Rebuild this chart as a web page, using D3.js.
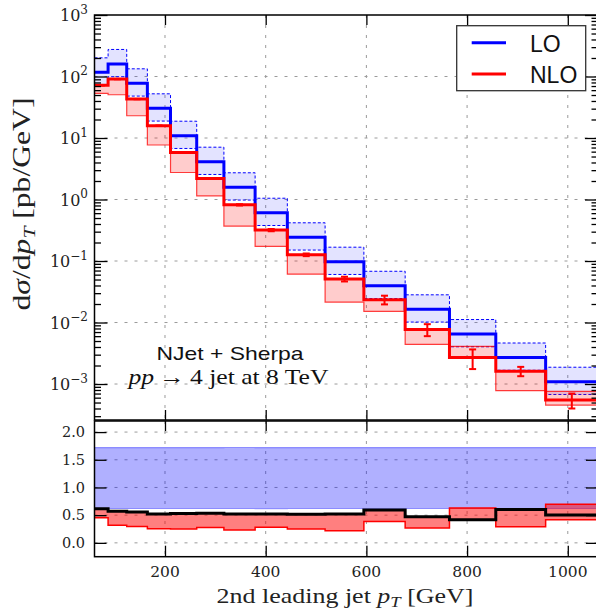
<!DOCTYPE html>
<html><head><meta charset="utf-8">
<script src="https://cdn.jsdelivr.net/npm/d3@7"></script>
<style>
body{margin:0;background:#fff}
svg{display:block}
</style>
</head><body>
<svg id="chart" width="596" height="614"></svg>
<script>
// Bin edges of the 2nd leading jet pT distribution [GeV]
const binEdges = [60, 87, 124, 165, 211, 263, 317, 379, 443, 518, 595, 677, 765, 857, 956, 1060];
// LO prediction [pb/GeV] with its scale-variation envelope
const loCentral = [117, 160, 77.5, 30.4, 10.9, 4.12, 1.58, 0.61, 0.243, 0.0975, 0.0396, 0.0164, 0.0065, 0.0027, 0.00109];
const loUpper   = [201.2, 275.2, 133.3, 52.3, 18.75, 7.09, 2.72, 1.049, 0.418, 0.1677, 0.0681, 0.0282, 0.01118, 0.004644, 0.001875];
const loLower   = [72.5, 99.2, 48.05, 18.85, 6.76, 2.554, 0.98, 0.378, 0.1507, 0.06045, 0.02455, 0.01017, 0.00403, 0.001674, 0.000676];
// NLO prediction [pb/GeV] with its scale-variation envelope and MC errors
const nloCentral = [72, 91, 43, 15.8, 5.8, 2.2, 0.82, 0.318, 0.126, 0.051, 0.0235, 0.0077, 0.0027, 0.00162, 0.00055];
const nloUpper   = [72, 91, 43, 15.8, 5.8, 2.2, 0.82, 0.318, 0.126, 0.051, 0.0235, 0.0077, 0.0041, 0.00162, 0.00076];
const nloLower   = [53, 50.5, 23, 7.7, 2.75, 1.15, 0.37, 0.173, 0.061, 0.0215, 0.0152, 0.0044, 0.0027, 0.00078, 0.000455];
const nloStatErr = [0.5, 0.5, 0.25, 0.1, 0.04, 0.03, 0.02, 0.012, 0.006, 0.0045, 0.0038, 0.0017, 0.00095, 0.00028, 0.00015];
// Tick values
const xTicks = [200, 400, 600, 800, 1000];
const yTopExponents = [-3, -2, -1, 0, 1, 2, 3];
const yRatioTicks = [0.0, 0.5, 1.0, 1.5, 2.0];
const seriesNames = ["LO", "NLO"];

const svg = d3.select("#chart");
const X0 = 94.5, X1 = 598;
const T0 = 15, T1 = 420;      // main panel
const R0 = 421, R1 = 556.7;   // ratio panel

const x = d3.scaleLinear().domain([60, 1060]).range([X0, X1]);
const yTop = d3.scaleLog().domain([2.6e-4, 1e3]).range([T1, T0]);
const yRat = d3.scaleLinear().domain([-0.25, 2.2]).range([R1, R0]);

const serif = "DejaVu Serif";
const lightSerif = "Liberation Serif";
const sans = "Liberation Sans";

const defs = svg.append("defs");
defs.append("clipPath").attr("id", "clipTop").append("rect")
  .attr("x", X0).attr("y", T0).attr("width", X1 - X0).attr("height", T1 - T0);
defs.append("clipPath").attr("id", "clipRat").append("rect")
  .attr("x", X0).attr("y", R0).attr("width", X1 - X0).attr("height", R1 - R0);

// helpers for histogram steps
function stepPts(vals) {
  const p = [];
  vals.forEach((v, i) => { p.push([binEdges[i], v]); p.push([binEdges[i + 1], v]); });
  return p;
}
function bandPts(lo, hi) {
  const p = [];
  lo.forEach((v, i) => { p.push([binEdges[i], v, hi[i]]); p.push([binEdges[i + 1], v, hi[i]]); });
  return p;
}
const ratio = (a) => a.map((v, i) => v / loCentral[i]);

// ---------- grids ----------
const gridStyle = g => g.attr("stroke", "#9a9a9a").attr("stroke-width", 1).attr("stroke-dasharray", "3,7");
const gTop = svg.append("g");
gTop.selectAll("line.vx").data(xTicks).join("line")
  .attr("x1", d => x(d)).attr("x2", d => x(d)).attr("y1", T0).attr("y2", T1).call(gridStyle);
gTop.selectAll("line.hy").data(yTopExponents.filter(e => e < 3)).join("line")
  .attr("x1", X0).attr("x2", X1).attr("y1", d => yTop(Math.pow(10, d))).attr("y2", d => yTop(Math.pow(10, d))).call(gridStyle);
const gRg = svg.append("g");
gRg.selectAll("line.vx").data(xTicks).join("line")
  .attr("x1", d => x(d)).attr("x2", d => x(d)).attr("y1", R0).attr("y2", R1).call(gridStyle);
gRg.selectAll("line.hy").data(yRatioTicks).join("line")
  .attr("x1", X0).attr("x2", X1).attr("y1", d => yRat(d)).attr("y2", d => yRat(d)).call(gridStyle);

// ---------- main panel ----------
const mainG = svg.append("g").attr("clip-path", "url(#clipTop)");
const areaTop = d3.area().x(d => x(d[0])).y0(d => yTop(d[1])).y1(d => yTop(d[2]));
const lineTop = d3.line().x(d => x(d[0])).y(d => yTop(d[1]));

mainG.append("path").datum(bandPts(loLower, loUpper)).attr("d", areaTop)
  .attr("fill", "rgba(0,0,255,0.11)");
[loUpper, loLower].forEach(arr => mainG.append("path").datum(stepPts(arr)).attr("d", lineTop)
  .attr("fill", "none").attr("stroke", "#0000ff").attr("stroke-width", 1).attr("stroke-dasharray", "3,2"));

mainG.append("path").datum(bandPts(nloLower, nloUpper)).attr("d", areaTop)
  .attr("fill", "rgba(255,0,0,0.2)");
[nloUpper, nloLower].forEach(arr => mainG.append("path").datum(stepPts(arr)).attr("d", lineTop)
  .attr("fill", "none").attr("stroke", "rgba(255,0,0,0.75)").attr("stroke-width", 1.2));

mainG.append("path").datum(stepPts(loCentral)).attr("d", lineTop)
  .attr("fill", "none").attr("stroke", "#0000ff").attr("stroke-width", 3);
mainG.append("path").datum(stepPts(nloCentral)).attr("d", lineTop)
  .attr("fill", "none").attr("stroke", "#ff0000").attr("stroke-width", 3);

// MC error bars on NLO
const eb = mainG.append("g").attr("stroke", "#ff0000").attr("stroke-width", 2);
nloCentral.forEach((v, i) => {
  const cx = x((binEdges[i] + binEdges[i + 1]) / 2);
  const ya = yTop(v + nloStatErr[i]), yb = yTop(v - nloStatErr[i]);
  eb.append("line").attr("x1", cx).attr("x2", cx).attr("y1", ya).attr("y2", yb);
  eb.append("line").attr("x1", cx - 3.5).attr("x2", cx + 3.5).attr("y1", ya).attr("y2", ya);
  eb.append("line").attr("x1", cx - 3.5).attr("x2", cx + 3.5).attr("y1", yb).attr("y2", yb);
});

// ---------- ratio panel ----------
const ratG = svg.append("g").attr("clip-path", "url(#clipRat)");
const areaRat = d3.area().x(d => x(d[0])).y0(d => yRat(d[1])).y1(d => yRat(d[2]));
const lineRat = d3.line().x(d => x(d[0])).y(d => yRat(d[1]));

ratG.append("path").datum(bandPts(ratio(loLower), ratio(loUpper))).attr("d", areaRat)
  .attr("fill", "rgba(0,0,255,0.31)");
[ratio(loUpper), ratio(loLower)].forEach(arr => ratG.append("path").datum(stepPts(arr)).attr("d", lineRat)
  .attr("fill", "none").attr("stroke", "rgba(0,0,255,0.35)").attr("stroke-width", 1.2));
ratG.append("path").datum(bandPts(ratio(nloLower), ratio(nloUpper))).attr("d", areaRat)
  .attr("fill", "rgba(255,0,0,0.5)");
[ratio(nloUpper), ratio(nloLower)].forEach(arr => ratG.append("path").datum(stepPts(arr)).attr("d", lineRat)
  .attr("fill", "none").attr("stroke", "#ff0000").attr("stroke-width", 1.5));
ratG.append("path").datum(stepPts(ratio(nloCentral))).attr("d", lineRat)
  .attr("fill", "none").attr("stroke", "#000").attr("stroke-width", 3);

// ---------- axes / ticks ----------
const minorVals = [];
for (let e = -4; e < 3; e++) for (let m = 2; m <= 9; m++) {
  const v = m * Math.pow(10, e);
  if (v >= 2.6e-4 && v <= 1e3) minorVals.push(v);
}
const majorVals = yTopExponents.map(e => Math.pow(10, e));
const axisStyle = g => { g.select(".domain").remove(); g.selectAll("line").attr("stroke", "#000").attr("stroke-width", 1.3); };

svg.append("g").attr("transform", `translate(${X0},0)`)
  .call(d3.axisLeft(yTop).tickValues(majorVals).tickSize(-13).tickFormat("")).call(axisStyle);
svg.append("g").attr("transform", `translate(${X0},0)`)
  .call(d3.axisLeft(yTop).tickValues(minorVals).tickSize(-6.5).tickFormat("")).call(axisStyle);
svg.append("g").attr("transform", `translate(${X1},0)`)
  .call(d3.axisRight(yTop).tickValues(majorVals).tickSize(-13).tickFormat("")).call(axisStyle);
svg.append("g").attr("transform", `translate(${X1},0)`)
  .call(d3.axisRight(yTop).tickValues(minorVals).tickSize(-6.5).tickFormat("")).call(axisStyle);
svg.append("g").attr("transform", `translate(0,${T0})`)
  .call(d3.axisTop(x).tickValues(xTicks).tickSize(-10).tickFormat("")).call(axisStyle);
svg.append("g").attr("transform", `translate(0,${T1})`)
  .call(d3.axisBottom(x).tickValues(xTicks).tickSize(-10).tickFormat("")).call(axisStyle);

svg.append("g").attr("transform", `translate(${X0},0)`)
  .call(d3.axisLeft(yRat).tickValues(yRatioTicks).tickSize(-12).tickFormat("")).call(axisStyle);
svg.append("g").attr("transform", `translate(${X1},0)`)
  .call(d3.axisRight(yRat).tickValues(yRatioTicks).tickSize(-12).tickFormat("")).call(axisStyle);
svg.append("g").attr("transform", `translate(0,${R0})`)
  .call(d3.axisTop(x).tickValues(xTicks).tickSize(-10).tickFormat("")).call(axisStyle);
svg.append("g").attr("transform", `translate(0,${R1})`)
  .call(d3.axisBottom(x).tickValues(xTicks).tickSize(-11).tickFormat("")).call(axisStyle);

// spines
[[T0, T1], [R0, R1]].forEach(([a, b]) => svg.append("rect")
  .attr("x", X0).attr("y", a).attr("width", X1 - X0).attr("height", b - a)
  .attr("fill", "none").attr("stroke", "#000").attr("stroke-width", 1.5));

// tick labels
const lab = svg.append("g").attr("font-family", serif).attr("fill", "#222");
yTopExponents.forEach(e => {
  const t = lab.append("text").attr("x", 88).attr("y", yTop(Math.pow(10, e)) + 6.3)
    .attr("text-anchor", "end").attr("font-size", 16);
  t.append("tspan").text("10");
  t.append("tspan").attr("dy", -7.5).attr("font-size", 12).text(e < 0 ? "\u2212" + (-e) : String(e));
});
yRatioTicks.forEach(v => lab.append("text").attr("x", 85).attr("y", yRat(v) + 5.2)
  .attr("text-anchor", "end").attr("font-size", 14.5).text(v.toFixed(1)));
xTicks.forEach(v => lab.append("text").attr("x", x(v)).attr("y", 577)
  .attr("text-anchor", "middle").attr("font-size", 15.5).text(v));

// axis titles
const xt = svg.append("text").attr("x", 345).attr("y", 603).attr("text-anchor", "middle")
  .attr("font-family", lightSerif).attr("font-size", 21).attr("fill", "#222")
  .attr("textLength", 257).attr("lengthAdjust", "spacingAndGlyphs");
xt.append("tspan").text("2nd leading jet ");
xt.append("tspan").attr("font-style", "italic").text("p");
xt.append("tspan").attr("font-style", "italic").attr("font-size", 15).attr("dy", 4).text("T");
xt.append("tspan").attr("dy", -4).text(" [GeV]");

const yt = svg.append("text").attr("transform", "translate(30,204) rotate(-90)")
  .attr("text-anchor", "middle").attr("font-family", lightSerif).attr("font-size", 25).attr("fill", "#222")
  .attr("textLength", 213).attr("lengthAdjust", "spacingAndGlyphs");
yt.append("tspan").text("d");
yt.append("tspan").attr("font-style", "italic").text("\u03c3");
yt.append("tspan").text("/d");
yt.append("tspan").attr("font-style", "italic").text("p");
yt.append("tspan").attr("font-style", "italic").attr("font-size", 17).attr("dy", 5).text("T");
yt.append("tspan").attr("dy", -5).text(" [pb/GeV]");

// process annotation
svg.append("text").attr("x", 230).attr("y", 360).attr("text-anchor", "middle")
  .attr("font-family", sans).attr("font-size", 18.5).attr("fill", "#111")
  .attr("textLength", 147).attr("lengthAdjust", "spacingAndGlyphs").text("NJet + Sherpa");
const proc = svg.append("text").attr("x", 228.5).attr("y", 384).attr("text-anchor", "middle")
  .attr("font-family", lightSerif).attr("font-size", 21).attr("fill", "#111")
  .attr("textLength", 200).attr("lengthAdjust", "spacingAndGlyphs");
proc.append("tspan").attr("font-style", "italic").text("pp");
proc.append("tspan").text("\u2009\u2192\u20094 jet at 8 TeV");

// legend
const leg = svg.append("g");
leg.append("rect").attr("x", 456.7).attr("y", 25.7).attr("width", 129).attr("height", 65)
  .attr("fill", "#fff").attr("stroke", "#333").attr("stroke-width", 1.3);
const legColors = ["#0000ff", "#ff0000"];
seriesNames.forEach((n, i) => {
  const cy = 42.7 + i * 31.3;
  leg.append("line").attr("x1", 471.7).attr("x2", 506).attr("y1", cy).attr("y2", cy)
    .attr("stroke", legColors[i]).attr("stroke-width", 3);
  leg.append("text").attr("x", 530).attr("y", cy + 9.3).attr("font-family", sans)
    .attr("font-size", 23).attr("fill", "#111").text(n);
});
</script>
</body></html>
